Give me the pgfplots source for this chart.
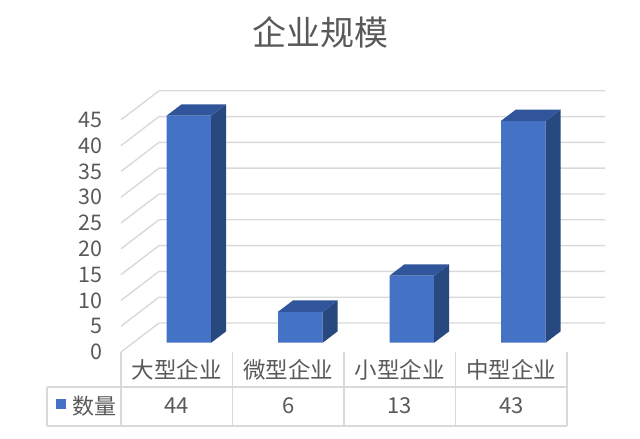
\documentclass[border=0pt]{standalone}
\usepackage{fontspec}
\setmainfont{Noto Sans CJK SC}
\usepackage{pgfplots}
\pgfplotsset{compat=1.18}
\usepackage{pgfplotstable}

\definecolor{barfront}{HTML}{4472C4}
\definecolor{bartop}{HTML}{30559A}
\definecolor{barside}{HTML}{284880}
\definecolor{gridc}{HTML}{D9D9D9}
\definecolor{txt}{HTML}{595959}

% 规模, 数量
\pgfplotstableread{
x    v
0.5  44
1.5  6
2.5  13
3.5  43
}\sizes

\begin{document}
\begin{tikzpicture}
\useasboundingbox (-121pt,-87pt) rectangle (519pt,352pt);
\begin{axis}[
  anchor=origin, at={(0pt,0pt)},
  x=111.5pt, y=5.16pt,
  xmin=0, xmax=4.341, ymin=0, ymax=50.62,
  clip=false,
  axis line style={draw=none},
  major tick length=0pt,
  tick style={draw=none},
  ytick={0,5,...,45},
  yticklabel style={anchor=east, inner sep=0pt, xshift=-18pt, font=\fontsize{21.5}{24}\selectfont, text=txt},
  xtick={0.5,1.5,2.5,3.5},
  xticklabels={大型企业,微型企业,小型企业,中型企业},
  xticklabel style={anchor=center, inner sep=0pt, yshift=-18pt, font=\fontsize{22.5}{26}\selectfont, text=txt},
  /pgf/number format/assume math mode=true,
]
% grid on the walls
\pgfplotsinvokeforeach{0,5,...,45}{
  \draw[gridc, line width=1.4pt] (axis cs:0,#1) -- (axis cs:0.341,{#1+5.62}) -- (axis cs:4.341,{#1+5.62});
}
% front faces
\addplot[ybar, bar width=44.6pt, bar shift=12.1pt, yshift=9.3pt, fill=barfront, draw=none] table[x=x, y=v] {\sizes};
% side faces
\addplot[fill=barside, draw=none] coordinates {(0.809,1.80) (0.942,3.99) (0.942,47.99) (0.809,45.80)} -- cycle;
\addplot[fill=barside, draw=none] coordinates {(1.809,1.80) (1.942,3.99) (1.942,9.99) (1.809,7.80)} -- cycle;
\addplot[fill=barside, draw=none] coordinates {(2.809,1.80) (2.942,3.99) (2.942,16.99) (2.809,14.80)} -- cycle;
\addplot[fill=barside, draw=none] coordinates {(3.809,1.80) (3.942,3.99) (3.942,46.99) (3.809,44.80)} -- cycle;
% top faces
\addplot[fill=bartop, draw=none] coordinates {(0.409,45.80) (0.809,45.80) (0.942,47.99) (0.542,47.99)} -- cycle;
\addplot[fill=bartop, draw=none] coordinates {(1.409,7.80) (1.809,7.80) (1.942,9.99) (1.542,9.99)} -- cycle;
\addplot[fill=bartop, draw=none] coordinates {(2.409,14.80) (2.809,14.80) (2.942,16.99) (2.542,16.99)} -- cycle;
\addplot[fill=bartop, draw=none] coordinates {(3.409,44.80) (3.809,44.80) (3.942,46.99) (3.542,46.99)} -- cycle;
\end{axis}
% data table
\begin{scope}[gridc, line width=1.4pt]
  \foreach \xx in {0,111.5,223,334.5,446} {\draw (\xx pt,0pt) -- (\xx pt,-74pt);}
  \draw (-74pt,-35pt) -- (446pt,-35pt);
  \draw (-74pt,-74pt) -- (446pt,-74pt);
  \draw (-74pt,-35pt) -- (-74pt,-74pt);
\end{scope}
\fill[barfront] (-65pt,-47pt) rectangle (-55pt,-57pt);
\begin{scope}[every node/.style={text=txt, font=\fontsize{22}{25}\selectfont, inner sep=0pt}]
  \node[anchor=west] at (-49pt,-54pt) {数量};
  \node at (55.75pt,-54pt) {44};
  \node at (167.25pt,-54pt) {6};
  \node at (278.75pt,-54pt) {13};
  \node at (390.25pt,-54pt) {43};
\end{scope}
\node[text=txt, font=\fontsize{34}{38}\selectfont, inner sep=0pt] at (199pt,320pt) {企业规模};
\end{tikzpicture}
\end{document}
